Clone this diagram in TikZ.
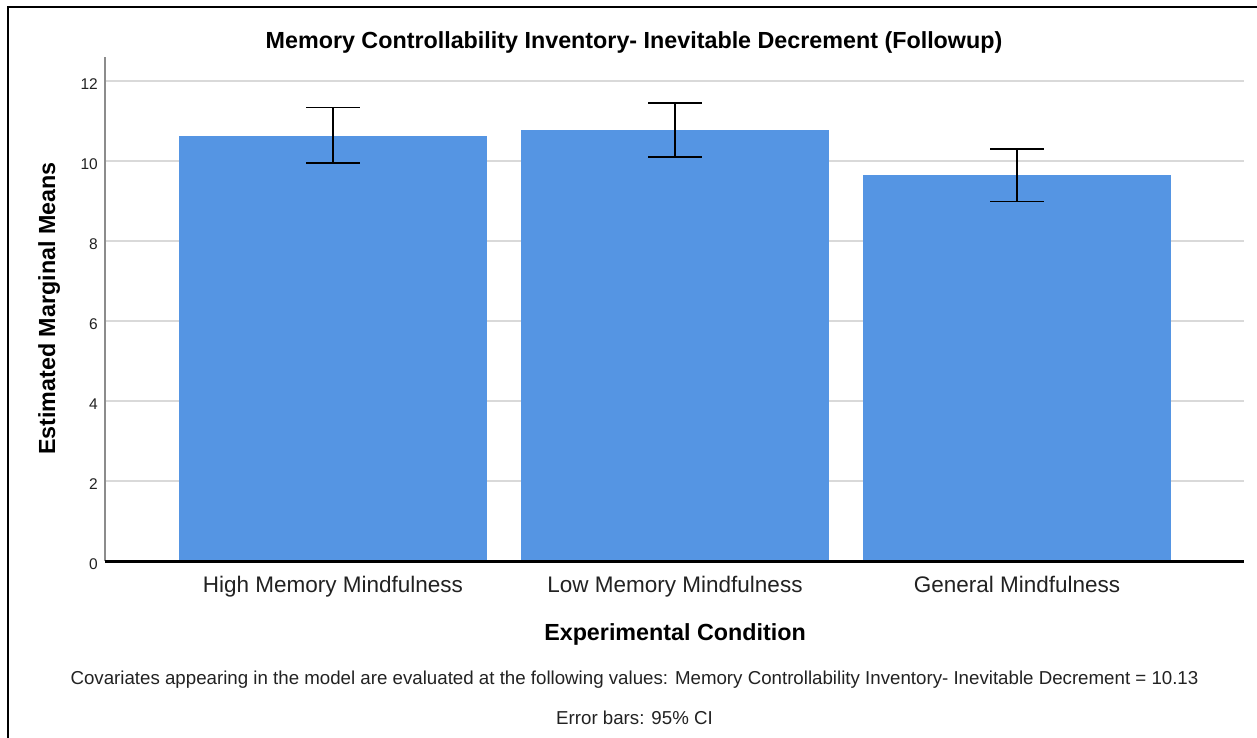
\documentclass[tikz,border=0pt]{standalone}
\usepackage{fontspec}
\setmainfont{Liberation Sans}
\usetikzlibrary{positioning}
\definecolor{barBlue}{HTML}{5595E3}
\definecolor{gridGrey}{HTML}{D9D9D9}
\definecolor{axisGrey}{HTML}{8C8C8C}
\definecolor{textDark}{HTML}{222222}

\begin{document}
\begin{tikzpicture}[
  x=1pt, y=-1pt,
  gridline/.style={gridGrey, line width=1.5pt},
  bar/.style={fill=barBlue, draw=none},
  errbar/.style={black, line width=1.3pt},
  ticklabel/.style={font=\fontsize{15.5}{18}\selectfont, text=textDark, anchor=east, inner sep=0pt, yshift=-3pt},
  catlabel/.style={font=\fontsize{22.5}{26}\selectfont, text=textDark, inner sep=0pt, anchor=base},
  axistitle/.style={font=\fontsize{23.3}{27}\selectfont\bfseries, text=black, inner sep=0pt, anchor=base},
  note/.style={font=\fontsize{18.7}{22}\selectfont, text=textDark, inner sep=0pt, anchor=base},
]
\useasboundingbox (0,0) rectangle (1257,738);
\fill[white] (0,0) rectangle (1257,738);

% Frame (only top and left edges are in view)
\draw[line width=2.5pt] (8,738) -- (8,7) -- (1257,7);

% Title
\node[axistitle] (title) at (634,49) {Memory Controllability Inventory- Inevitable Decrement (Followup)};

% Plot area, y in data units
\begin{scope}[shift={(0,561)}, y=40pt]
  \foreach \v in {2,4,...,12}
    \draw[gridline] (105,\v) -- (1244,\v);
  \foreach \v in {0,2,...,12}
    \node[ticklabel] (tick\v) at (98,\v) {\v};
  % bars with 95% CI
  \foreach \c/\m/\lo/\hi in {333/10.63/9.95/11.33, 675/10.77/10.10/11.45, 1017/9.64/8.99/10.30} {
    \fill[bar] (\c-154,0) rectangle (\c+154,\m);
    \draw[errbar] (\c-27,\lo) -- (\c+27,\lo) (\c,\lo) -- (\c,\hi) (\c-27,\hi) -- (\c+27,\hi);
  }
  \draw[axisGrey, line width=1.5pt] (105,0) -- (105,12.6);
  \draw[black, line width=3pt] (105,0) -- (1244,0);
\end{scope}

% Category labels
\node[catlabel] (catHigh) at (333,592) {High Memory Mindfulness};
\node[catlabel] (catLow) at (675,592) {Low Memory Mindfulness};
\node[catlabel] (catGen) at (1017,592) {General Mindfulness};

% Axis titles
\node[axistitle] (xtitle) at (675,640) {Experimental Condition};
\node[axistitle, rotate=90] (ytitle) at (55,308.5) {Estimated Marginal Means};

% Footnotes
\node[note] (note1) at (634.5,684) {Covariates appearing in the model are evaluated at the following values: Memory Controllability Inventory- Inevitable Decrement = 10.13};
\node[note] (note2) at (634.5,724) {Error bars: 95\% CI};

\end{tikzpicture}
\end{document}
